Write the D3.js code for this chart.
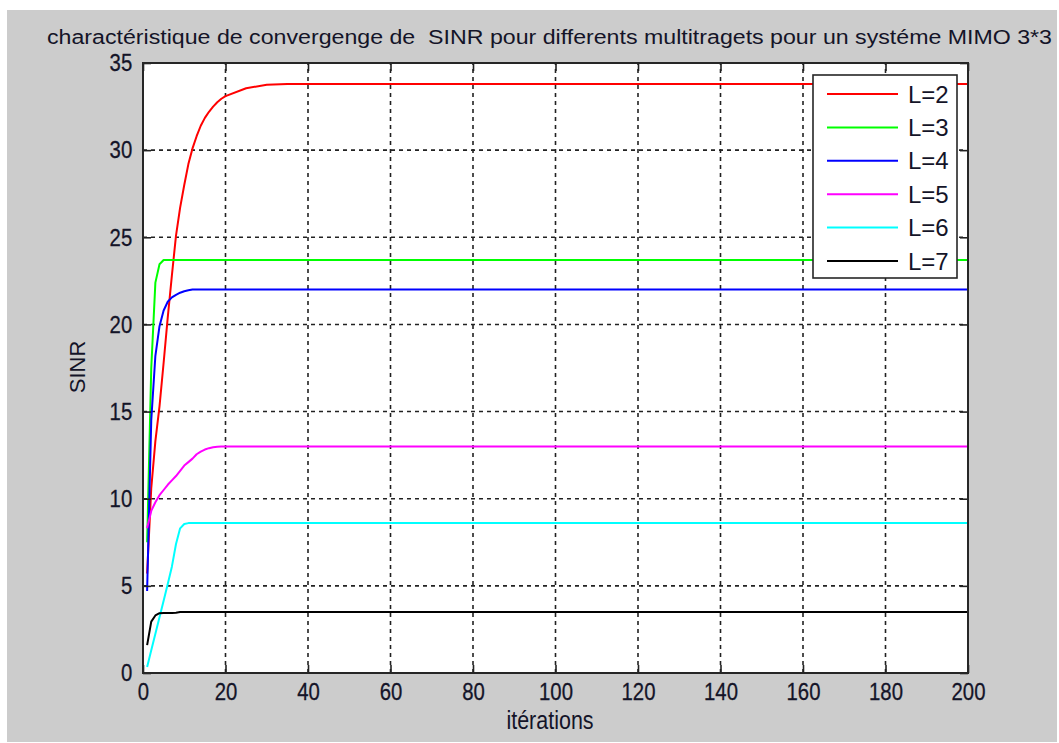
<!DOCTYPE html>
<html><head><meta charset="utf-8">
<script src="https://cdn.jsdelivr.net/npm/d3@7"></script>
<style>
body{margin:0;background:#fff;}
text{font-family:"Liberation Sans",Arial,sans-serif;fill:#141428;}
</style>
</head><body>
<svg id="chart" width="1059" height="743"></svg>
<script>
// ---- data ----
const iterations = [1,2,3,4,5,6,7,8,9,10,11,12,13,14,15,16,17,18,19,20,25,30,35,40,200];
const seriesLabels = ["L=2","L=3","L=4","L=5","L=6","L=7"];
const sinrL2 = [5.7,10.6,13.3,15.3,17.8,20.4,22.8,25.1,26.7,28.0,29.2,30.1,30.8,31.4,31.85,32.2,32.5,32.75,32.95,33.1,33.55,33.75,33.8,33.8,33.8];
const sinrL3 = [7.5,17.5,22.4,23.45,23.7,23.7,23.7,23.7,23.7,23.7,23.7,23.7,23.7,23.7,23.7,23.7,23.7,23.7,23.7,23.7,23.7,23.7,23.7,23.7,23.7];
const sinrL4 = [4.7,14.5,18.2,19.9,20.8,21.3,21.55,21.7,21.82,21.9,21.96,22.0,22.0,22.0,22.0,22.0,22.0,22.0,22.0,22.0,22.0,22.0,22.0,22.0,22.0];
const sinrL5 = [8.3,9.3,9.8,10.2,10.5,10.8,11.05,11.3,11.6,11.9,12.1,12.3,12.55,12.7,12.82,12.9,12.95,12.98,13.0,13.0,13.0,13.0,13.0,13.0,13.0];
const sinrL6 = [0.35,1.3,2.25,3.2,4.15,5.1,6.1,7.4,8.3,8.55,8.6,8.6,8.6,8.6,8.6,8.6,8.6,8.6,8.6,8.6,8.6,8.6,8.6,8.6,8.6];
const sinrL7 = [1.6,2.95,3.3,3.43,3.44,3.44,3.44,3.46,3.5,3.5,3.5,3.5,3.5,3.5,3.5,3.5,3.5,3.5,3.5,3.5,3.5,3.5,3.5,3.5,3.5];
const seriesColors = ["#ff0000","#00ff00","#0000ff","#ff00ff","#00ffff","#000000"];
const xTickValues = [0,20,40,60,80,100,120,140,160,180,200];
const yTickValues = [0,5,10,15,20,25,30,35];
const titleText = "charactéristique de convergenge de  SINR pour differents multitragets pour un systéme MIMO 3*3";
const xLabel = "itérations";
const yLabel = "SINR";

const allSeries = [sinrL2,sinrL3,sinrL4,sinrL5,sinrL6,sinrL7];

// ---- layout ----
const svg = d3.select("#chart");
const L = 143, R = 968, T = 63, B = 673;
const x = d3.scaleLinear().domain([0,200]).range([L,R]);
const y = d3.scaleLinear().domain([0,35]).range([B,T]);

svg.append("rect").attr("x",7).attr("y",10).attr("width",1050).attr("height",732).attr("fill","#cccccc");
svg.append("rect").attr("x",L).attr("y",T).attr("width",R-L).attr("height",B-T).attr("fill","#ffffff");

// grid
const grid = svg.append("g").attr("stroke","#222").attr("stroke-width",1.6).attr("stroke-dasharray","4,4");
grid.selectAll("line.v").data(xTickValues.filter(d=>d>0&&d<200)).join("line")
  .attr("x1",d=>x(d)).attr("x2",d=>x(d)).attr("y1",B).attr("y2",T);
grid.selectAll("line.h").data(yTickValues.filter(d=>d>0&&d<35)).join("line")
  .attr("x1",L).attr("x2",R).attr("y1",d=>y(d)).attr("y2",d=>y(d));

// lines
svg.append("clipPath").attr("id","clip").append("rect").attr("x",L).attr("y",T).attr("width",R-L).attr("height",B-T);
const line = d3.line().x((d,i)=>x(iterations[i])).y(d=>y(d));
svg.append("g").attr("clip-path","url(#clip)").selectAll("path").data(allSeries).join("path")
  .attr("d",d=>line(d)).attr("fill","none")
  .attr("stroke",(d,i)=>seriesColors[i]).attr("stroke-width",2).attr("stroke-linejoin","round");

// axes
const tickFont = 24.5, sx = 0.83;
function styleAxis(g, showText){
  g.select(".domain").remove();
  g.selectAll(".tick line").attr("stroke","#222").attr("stroke-width",1.6);
  if(!showText) g.selectAll(".tick text").remove();
  else g.selectAll(".tick text").attr("font-size",tickFont).attr("fill","#141428")
        .attr("font-family","Liberation Sans, Arial, sans-serif")
        .attr("stroke","#141428").attr("stroke-width",0.3);
}
const gx = svg.append("g").attr("transform",`translate(0,${B})`)
  .call(d3.axisBottom(x).tickValues(xTickValues).tickSize(-8).tickPadding(10).tickFormat(d3.format("d")));
styleAxis(gx,true);
gx.selectAll(".tick text").attr("transform",`scale(${sx},1)`);
const gxt = svg.append("g").attr("transform",`translate(0,${T})`)
  .call(d3.axisTop(x).tickValues(xTickValues).tickSize(-8));
styleAxis(gxt,false);
const gy = svg.append("g").attr("transform",`translate(${L},0)`)
  .call(d3.axisLeft(y).tickValues(yTickValues).tickSize(-8).tickPadding(13).tickFormat(d3.format("d")));
styleAxis(gy,true);
gy.selectAll(".tick text").attr("transform",`scale(${sx},1)`);
const gyr = svg.append("g").attr("transform",`translate(${R},0)`)
  .call(d3.axisRight(y).tickValues(yTickValues).tickSize(-8));
styleAxis(gyr,false);

// box
svg.append("rect").attr("x",L).attr("y",T).attr("width",R-L).attr("height",B-T)
  .attr("fill","none").attr("stroke","#262626").attr("stroke-width",2);

// title & labels
svg.append("text").attr("x",549.5).attr("y",43.5).attr("text-anchor","middle")
  .attr("font-size",19.5).style("white-space","pre")
  .attr("textLength",1005).attr("lengthAdjust","spacingAndGlyphs").text(titleText);
svg.append("text").attr("transform","translate(550,729) scale(0.86,1)").attr("text-anchor","middle")
  .attr("font-size",25).text(xLabel);
svg.append("text").attr("transform","translate(85,367) rotate(-90)").attr("text-anchor","middle")
  .attr("font-size",22).text(yLabel);

// legend
const lg = svg.append("g");
const legTop = 75, legStep = 33.4, legFirst = 94;
lg.append("rect").attr("x",813).attr("y",legTop).attr("width",144).attr("height",203)
  .attr("fill","#fff").attr("stroke","#262626").attr("stroke-width",1.6);
seriesLabels.forEach((lab,i)=>{
  const cy = legFirst + i*legStep;
  lg.append("line").attr("x1",827).attr("x2",898).attr("y1",cy).attr("y2",cy)
    .attr("stroke",seriesColors[i]).attr("stroke-width",2);
  lg.append("text").attr("x",908).attr("y",cy+8.6).attr("font-size",24).text(lab);
});
</script>
</body></html>
